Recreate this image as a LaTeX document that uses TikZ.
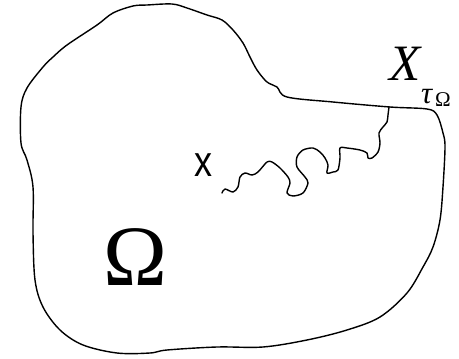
\documentclass[tikz,border=0pt]{standalone}
\usepackage{fontspec}
\setmainfont{Liberation Serif}
\newfontfamily\arialfont{Liberation Sans}
\begin{document}
\begin{tikzpicture}[x=1pt,y=-1pt,
  curve/.style={line width=1.4pt,line join=round,line cap=round},
  lbl/.style={inner sep=0pt,outer sep=0pt}]
\useasboundingbox (0,0) rectangle (459,359);
\draw[curve] plot[smooth cycle,tension=0.55] coordinates {
(133,6)(147,5)(172,4)(187,8)(207,15)(222,20)(233,30)(243,43)(250,57)(257,70)(267,82)(277,87)(287,97)
(333,102)(390,107)(427,109)(437,115)(443,133)(445,147)(443,187)(440,220)(433,247)(423,267)(407,293)
(380,317)(347,330)(307,340)(263,347)(217,347)(167,350)(150,353)(117,353)(83,345)(60,330)(43,307)
(35,280)(33,233)(33,187)(27,160)(21,143)(21,107)(27,88)(43,67)(53,57)(67,45)(97,25)(113,13)};
\coordinate (start) at (222,193);
\coordinate (hit) at (389,107);
\draw[curve] plot[smooth,tension=0.5] coordinates {
(222,193)(225,189)(233,192)(238,187)(240,177)(245,173)(252,175)(258,172)(267,162)(272,162)
(280,168)(288,177)(290,183)(287,193)(293,196)(303,193)(308,183)(305,177)(297,167)(297,157)
(303,150)(313,148)(320,152)(325,158)(328,165)(327,173)(333,172)(338,170)(340,158)(340,148)
(347,148)(360,150)(367,153)(368,158)(372,158)(378,152)(380,143)(379,133)(383,127)(387,122)
(388,115)(389,107)};
\node[lbl,font={\arialfont\fontsize{36}{36}\selectfont},yscale=1.2] (x) at (203,165) {x};
\node[lbl,font={\fontsize{51}{51}\selectfont\itshape}] (X) at (405,64) {X};
\node[lbl,font={\fontsize{31}{31}\selectfont\itshape},anchor=base west] (tau) at (421,103) {τ};
\node[lbl,font={\fontsize{21}{21}\selectfont},anchor=base west] (om) at (435,106) {Ω};
\node[lbl,font={\fontsize{86}{86}\selectfont}] (Om) at (135,257) {Ω};
\end{tikzpicture}
\end{document}
